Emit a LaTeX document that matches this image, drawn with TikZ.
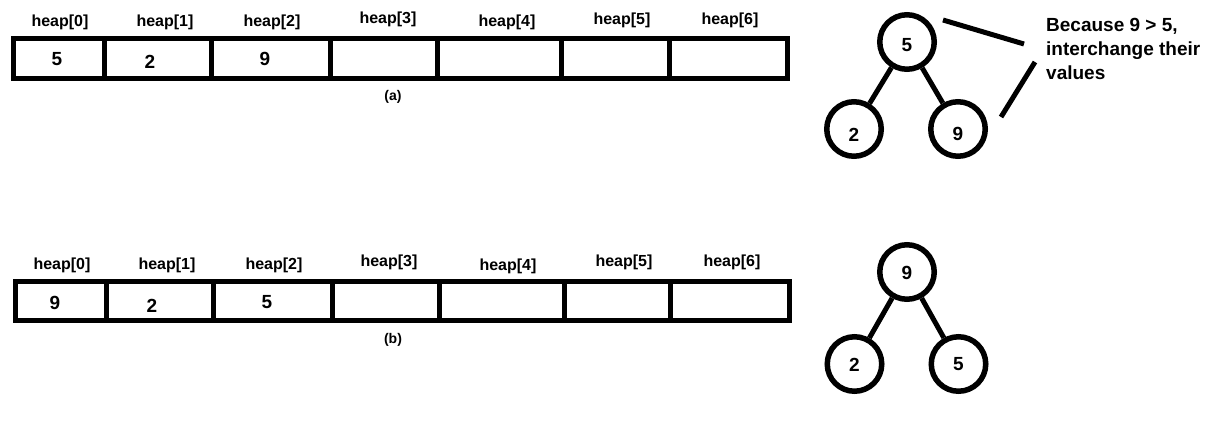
\documentclass[tikz,border=0pt]{standalone}
\usepackage{fontspec}
\setmainfont{Liberation Sans}
\begin{document}
\begin{tikzpicture}[x=1pt,y=-1pt,
 lbl/.style={font=\fontsize{16}{18}\selectfont\bfseries, inner sep=0pt},
 val/.style={font=\fontsize{19}{22}\selectfont\bfseries, inner sep=0pt},
 capt/.style={font=\fontsize{14}{16}\selectfont\bfseries, inner sep=0pt},
 cell/.style={draw, line width=5pt},
 hnode/.style={circle, draw, line width=5.5pt, minimum size=54.5pt, inner sep=0pt, font=\fontsize{19}{21}\selectfont\bfseries, text depth=0pt},
 edge/.style={line width=5pt}]
\useasboundingbox (0,0) rectangle (1220,432);

% ---------- array (a)
\foreach \l/\r in {13.5/104.5, 104.5/211, 211/330.5, 330.5/437, 437/561.5, 561.5/669, 669/787}
  \draw[cell] (\l,38) rectangle (\r,78);
\node[lbl] (a0) at (60,22) {heap[0]};
\node[lbl] (a1) at (165,22) {heap[1]};
\node[lbl] (a2) at (272,22) {heap[2]};
\node[lbl] (a3) at (388,19) {heap[3]};
\node[lbl] (a4) at (507,22) {heap[4]};
\node[lbl] (a5) at (622,20) {heap[5]};
\node[lbl] (a6) at (730,20) {heap[6]};
\node[val] (av0) at (57,59) {5};
\node[val] (av1) at (150,62) {2};
\node[val] (av2) at (265,59) {9};
\node[capt] (capa) at (393,97) {(a)};

% ---------- tree (a)
\node[hnode, text height=19pt] (ra) at (907,42) {5};
\node[hnode, text height=25pt] (la) at (854,129) {2};
\node[hnode, text height=22pt] (rra) at (958,129) {9};
\draw[edge] (ra) -- (la);
\draw[edge] (ra) -- (rra);
\coordinate (c1s) at (943,20);
\coordinate (c1e) at (1024,44);
\coordinate (c2s) at (1035,62);
\coordinate (c2e) at (1001,117);
\draw[edge] (c1s) -- (c1e);
\draw[edge] (c2s) -- (c2e);
\node[anchor=north west, inner sep=0pt, align=left, font=\fontsize{19}{24}\selectfont\bfseries] (note) at (1046,18)
  {Because 9 > 5,\\interchange their\\values};

% ---------- array (b)
\foreach \l/\r in {15.5/106.5, 106.5/213.5, 213.5/332.5, 332.5/439.5, 439.5/564, 564/670.5, 670.5/789}
  \draw[cell] (\l,281.5) rectangle (\r,320.5);
\node[lbl] (b0) at (62,265.5) {heap[0]};
\node[lbl] (b1) at (167,265) {heap[1]};
\node[lbl] (b2) at (274,265) {heap[2]};
\node[lbl] (b3) at (389,262) {heap[3]};
\node[lbl] (b4) at (508,266) {heap[4]};
\node[lbl] (b5) at (624,262.5) {heap[5]};
\node[lbl] (b6) at (732,262.5) {heap[6]};
\node[val] (bv0) at (55,302.5) {9};
\node[val] (bv1) at (152,305.5) {2};
\node[val] (bv2) at (267,302) {5};
\node[capt] (capb) at (393,340) {(b)};

% ---------- tree (b)
\node[hnode, text height=15pt] (rb) at (907,272) {9};
\node[hnode, text height=15pt] (lb) at (854.5,364) {2};
\node[hnode, text height=13pt] (rrb) at (958.5,364) {5};
\draw[edge] (rb) -- (lb);
\draw[edge] (rb) -- (rrb);
\end{tikzpicture}
\end{document}
